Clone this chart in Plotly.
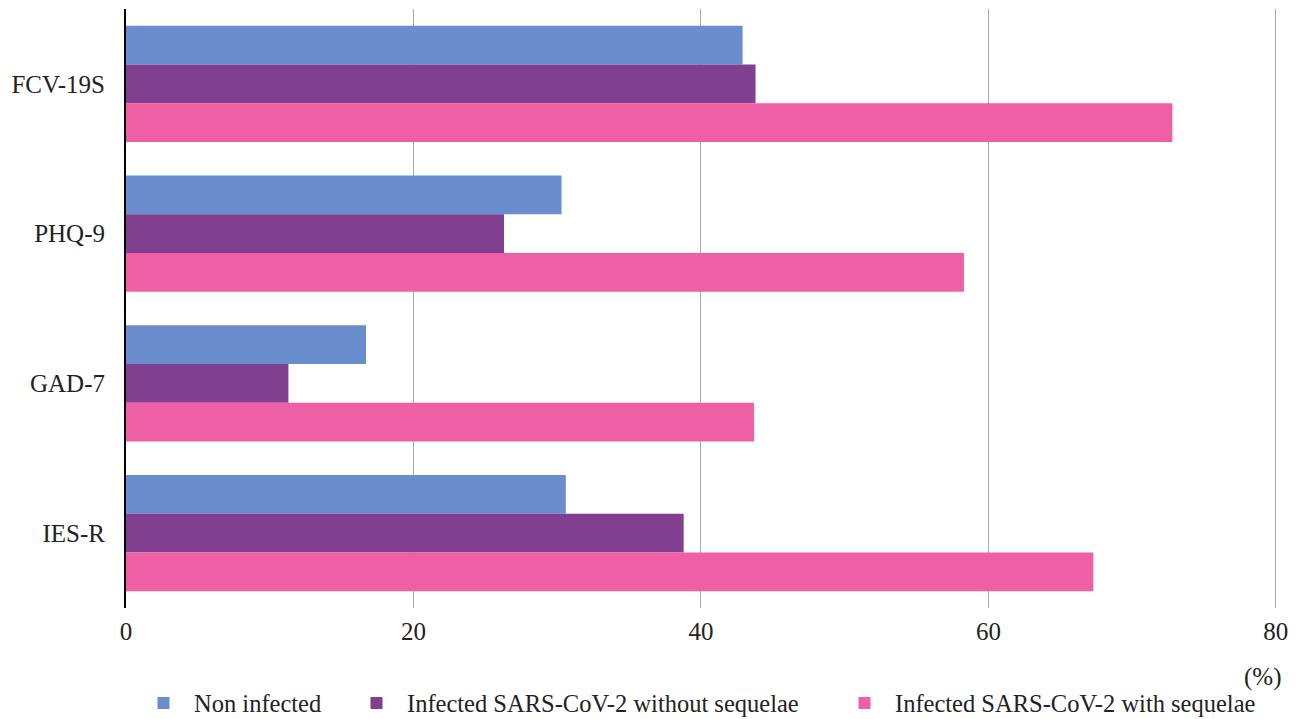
import plotly.graph_objects as go

categories = ["FCV-19S", "PHQ-9", "GAD-7", "IES-R"]
series_names = ["Non infected", "Infected SARS-CoV-2 without sequelae", "Infected SARS-CoV-2 with sequelae"]
non_infected = [42.9, 30.3, 16.7, 30.6]
infected_without = [43.8, 26.3, 11.3, 38.8]
infected_with = [72.8, 58.3, 43.7, 67.3]
colors = ["#6a8dcd", "#813f8f", "#ee5fa6"]
x_ticks = [0, 20, 40, 60, 80]

FONT = "Liberation Serif"
FS = 25
L, R, T, B = 126, 24, 9, 111
PW = 1301 - L - R
legend_ids = ["legend", "legend2", "legend3"]
legend_px = [133, 346, 834]  # left edges of legend boxes (px)

fig = go.Figure()
for name, vals, c, lid in zip(series_names, [non_infected, infected_without, infected_with], colors, legend_ids):
    fig.add_trace(go.Bar(y=categories, x=vals, name=name, orientation="h", legend=lid, showlegend=True,
                         marker=dict(color=c, line=dict(width=0))))

legend_common = dict(orientation="h", xanchor="left", yref="container", y=1 - 703 / 719, yanchor="middle",
                     font=dict(family=FONT, size=24.5, color="#222"), itemwidth=51, bgcolor="rgba(0,0,0,0)")

fig.update_layout(
    width=1301, height=719, showlegend=True,
    barmode="group", bargap=0.224, bargroupgap=0,
    plot_bgcolor="white", paper_bgcolor="white",
    margin=dict(l=L, r=R, t=T, b=B, autoexpand=False),
    font=dict(family=FONT, size=FS, color="#222"),
    xaxis=dict(range=[0, 80.08], tickvals=x_ticks, showgrid=True, gridcolor="#aaaaaa", gridwidth=1,
               zeroline=False, showline=False, ticks="", ticklabelstandoff=6,
               tickfont=dict(family=FONT, size=FS, color="#222")),
    yaxis=dict(autorange="reversed", showline=True, linecolor="black", linewidth=2,
               ticks="", ticklabelstandoff=14, tickfont=dict(family=FONT, size=FS, color="#222")),
    legend=dict(legend_common, x=(legend_px[0] - L) / PW),
    legend2=dict(legend_common, x=(legend_px[1] - L) / PW),
    legend3=dict(legend_common, x=(legend_px[2] - L) / PW),
    annotations=[dict(text="(%)", xref="paper", yref="paper", xanchor="center", yanchor="middle",
                      x=(1262 - L) / PW, y=(608 - 677) / 599, showarrow=False,
                      font=dict(family=FONT, size=FS, color="#222"))],
)
fig.write_html("out.html")
